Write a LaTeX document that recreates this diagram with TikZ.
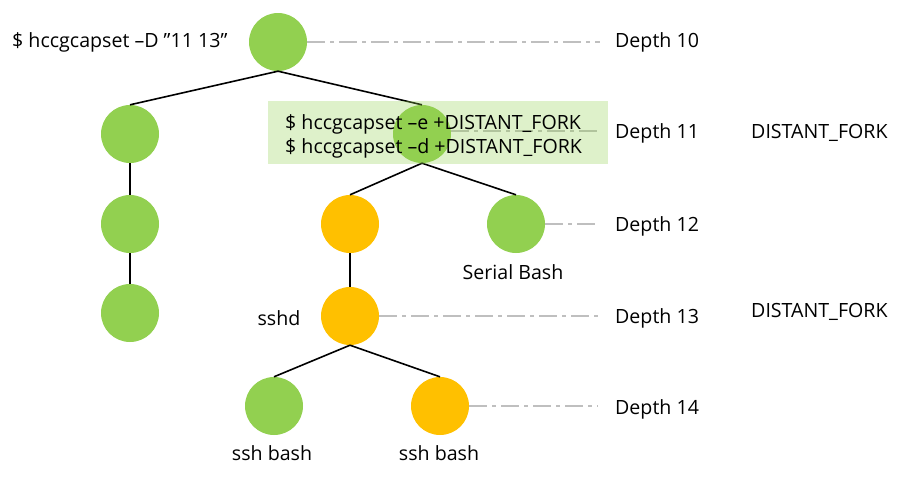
\documentclass[tikz,border=0pt]{standalone}
\usepackage{fontspec}
\setmainfont{Open Sans}
\definecolor{leafgreen}{HTML}{92D050}
\definecolor{forkorange}{HTML}{FFC000}
\definecolor{guidegray}{HTML}{BFBFBF}

\begin{document}
\begin{tikzpicture}[x=1pt, y=-1pt,
  proc/.style={circle, minimum size=58pt, inner sep=0pt},
  greenproc/.style={proc, fill=leafgreen},
  orangeproc/.style={proc, fill=forkorange},
  edge/.style={black, line width=1.6pt},
  guide/.style={guidegray, line width=1.6pt, dash pattern=on 18pt off 5pt on 4pt off 5pt},
  lbl/.style={font=\fontsize{19.6}{23}\selectfont, inner sep=0pt}]
\useasboundingbox (0,0) rectangle (904,480);

% process tree
\node[greenproc] (root) at (278,42) {};
\node[greenproc] (chainA) at (130,134) {};
\node[greenproc] (chainB) at (130,224) {};
\node[greenproc] (chainC) at (130,313) {};
\node[greenproc] (fork) at (422,134) {};
\node[orangeproc] (daemon) at (350,224) {};
\node[greenproc] (serial) at (516,224) {};
\node[orangeproc] (sshd) at (350,316) {};
\node[greenproc] (bashA) at (274,406) {};
\node[orangeproc] (bashB) at (440,406) {};

\draw[edge] (root.south) -- (chainA.north);
\draw[edge] (root.south) -- (fork.north);
\draw[edge] (chainA) -- (chainB);
\draw[edge] (chainB) -- (chainC);
\draw[edge] (fork.south) -- (daemon.north);
\draw[edge] (fork.south) -- (serial.north);
\draw[edge] (daemon) -- (sshd);
\draw[edge] (sshd.south) -- (bashA.north);
\draw[edge] (sshd.south) -- (bashB.north);

% depth guides
\coordinate (g10) at (600,42);
\coordinate (g11) at (600,131);
\coordinate (g12) at (600,224);
\coordinate (g13) at (598,316);
\coordinate (g14) at (598,406);
\draw[guide] (root.east) -- (g10);
\draw[guide] (fork.east |- g11) -- (g11);
\draw[guide] (serial.east) -- (g12);
\draw[guide] (sshd.east) -- (g13);
\draw[guide] (bashB.east) -- (g14);

\foreach \d/\y in {10/42,11/133,12/226,13/318,14/409}{
  \node[lbl, anchor=west] (depth\d) at (615,\y) {Depth \d};
}
\node[lbl, anchor=west] (flagA) at (751,133) {DISTANT\_FORK};
\node[lbl, anchor=west] (flagB) at (751,312) {DISTANT\_FORK};

% command box
\fill[leafgreen, fill opacity=0.3] (268,101) rectangle (608,164);
\node[lbl, anchor=west] (cmdE) at (285,124) {\$ hccgcapset –e +DISTANT\_FORK};
\node[lbl, anchor=west] (cmdD) at (285,148) {\$ hccgcapset –d +DISTANT\_FORK};
\node[lbl, anchor=west] (cmdRoot) at (12,42) {\$ hccgcapset –D ”11 13”};

\node[lbl] (serialLbl) at (513,272) {Serial Bash};
\node[lbl] (sshdLbl) at (279,318) {sshd};
\node[lbl] (bashALbl) at (272,453) {ssh bash};
\node[lbl] (bashBLbl) at (439,453) {ssh bash};
\end{tikzpicture}
\end{document}
